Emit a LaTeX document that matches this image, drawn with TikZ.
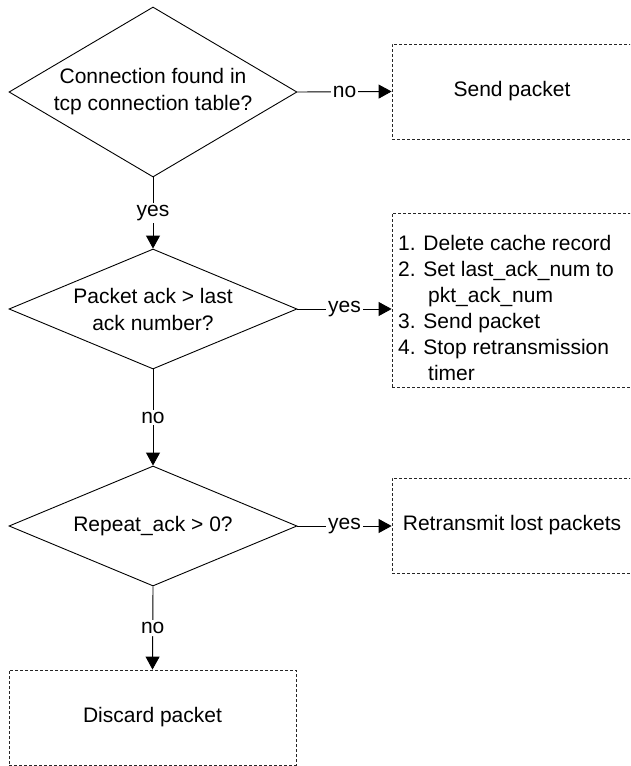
\documentclass[tikz,border=0pt]{standalone}
\usepackage{fontspec}
\setmainfont{Liberation Sans}
\usetikzlibrary{shapes.geometric,arrows.meta}
\begin{document}
\begin{tikzpicture}[x=1pt,y=-1pt,
  font=\fontsize{21}{27}\selectfont,
  decision/.style={diamond,draw,line width=0.9pt,inner sep=0pt,align=center,
     minimum width=288pt},
  procbox/.style={draw=black!85,line width=0.8pt,dash pattern=on 3pt off 2pt,
     rectangle,inner sep=0pt,align=center},
  link/.style={line width=0.9pt,-{Triangle[length=13pt,width=14pt]}},
  lab/.style={fill=white,inner sep=2pt}]
\useasboundingbox (0,0) rectangle (630,766);
\clip (0,0) rectangle (630,766);
\node[decision,minimum height=170pt,aspect=1.7] (d1) at (153,92) {Connection found in\\tcp connection table?};
\node[decision,minimum height=120pt,aspect=2.4] (d2) at (153,309) {Packet ack > last\\ack number?};
\node[decision,minimum height=120pt,aspect=2.4] (d3) at (153,526) {Repeat\_ack > 0?};
\node[procbox,minimum width=240pt,minimum height=95pt] (b1) at (512,91.5) {Send packet};
\node[procbox,minimum width=240pt,minimum height=174pt] (b2) at (512,300) {};
\node[anchor=north west,inner sep=0pt,align=left,font=\fontsize{21}{26}\selectfont] (b2t) at (398,235.5)
  {1. Delete cache record\\2. Set last\_ack\_num to\\\hspace*{30pt}pkt\_ack\_num\\3. Send packet\\4. Stop retransmission\\\hspace*{30pt}timer};
\node[procbox,minimum width=240pt,minimum height=95pt] (b3) at (512,525.5) {Retransmit lost packets};
\node[procbox,minimum width=287pt,minimum height=95pt] (b4) at (152.5,717.5) {Discard packet};
\draw[link] (d1.east) -- node[lab] {no} (b1.west);
\draw[link] (d1.south) -- node[lab] {yes} (d2.north);
\draw[link] (d2.east) -- node[lab] {yes} (d2.east -| b2.west);
\draw[link] (d2.south) -- node[lab] {no} (d3.north);
\draw[link] (d3.east) -- node[lab] {yes} (d3.east -| b3.west);
\draw[link] (d3.south) -- node[lab] {no} (b4.north);
\end{tikzpicture}
\end{document}
